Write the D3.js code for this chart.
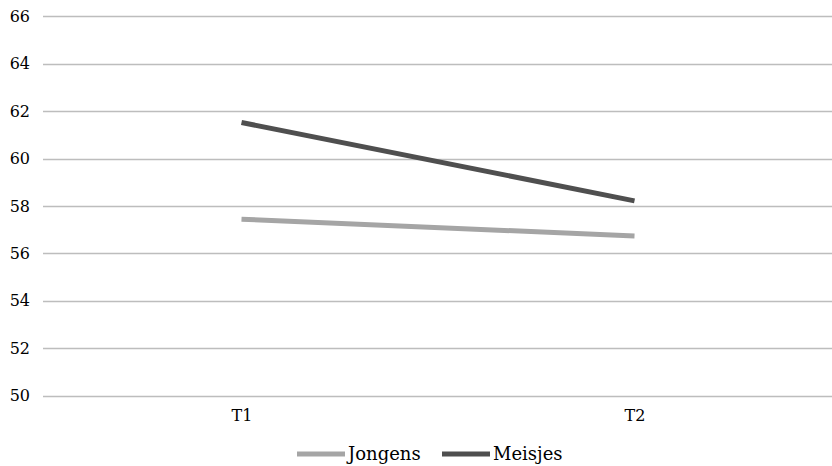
<!DOCTYPE html>
<html>
<head>
<meta charset="utf-8">
<script src="https://cdn.jsdelivr.net/npm/d3@7"></script>
<style>
  html, body { margin: 0; padding: 0; background: #ffffff; }
  svg { display: block; }
  svg text { font-family: "DejaVu Serif", serif; }
</style>
</head>
<body>
<svg id="chart" width="832" height="466"></svg>
<script>
// Measurement moments and mean scores per group
const categories = ["T1", "T2"];
const jongens = [57.44, 56.73];
const meisjes = [61.52, 58.21];
const yTicks = [50, 52, 54, 56, 58, 60, 62, 64, 66];

const series = [
  { name: "Jongens", values: jongens, color: "#a5a5a5" },
  { name: "Meisjes", values: meisjes, color: "#4f4f4f" }
];

const svg = d3.select("#chart");
const W = 832;
const plot = { left: 45, right: 831, top: 16.3, bottom: 395.5 };

const x = d3.scalePoint()
  .domain(categories)
  .range([plot.left, plot.right])
  .padding(0.5);

const y = d3.scaleLinear()
  .domain([50, 66])
  .range([plot.bottom, plot.top]);

// Horizontal gridlines
svg.append("g")
  .selectAll("line")
  .data(yTicks)
  .join("line")
  .attr("x1", 43)
  .attr("x2", W)
  .attr("y1", d => Math.round(y(d)) + 0.5)
  .attr("y2", d => Math.round(y(d)) + 0.5)
  .attr("stroke", "#bdbdbd")
  .attr("stroke-width", 1.3);

// Y axis labels
const yAxis = d3.axisLeft(y).tickValues(yTicks).tickSize(0).tickPadding(0);
const gy = svg.append("g")
  .attr("transform", "translate(30,0)")
  .call(yAxis)
  .attr("font-family", null);
gy.select(".domain").remove();
gy.selectAll("text")
  .attr("font-size", 16)
  .attr("fill", "#000")
  .attr("dy", "0.32em");

// X axis labels
const xAxis = d3.axisBottom(x).tickSize(0).tickPadding(0);
const gx = svg.append("g")
  .attr("transform", "translate(0,410)")
  .call(xAxis)
  .attr("font-family", null);
gx.select(".domain").remove();
gx.selectAll("text")
  .attr("font-size", 16)
  .attr("fill", "#000")
  .attr("dy", "0.71em");

// Series lines
const line = d3.line()
  .x((d, i) => x(categories[i]))
  .y(d => y(d));

svg.append("g")
  .selectAll("path")
  .data(series)
  .join("path")
  .attr("d", d => line(d.values))
  .attr("fill", "none")
  .attr("stroke", d => d.color)
  .attr("stroke-width", 5)
  .attr("stroke-linecap", "butt");

// Legend
const legend = svg.append("g").attr("transform", "translate(297,454)");
const legendX = [0, 145];
const items = legend.selectAll("g")
  .data(series)
  .join("g")
  .attr("transform", (d, i) => `translate(${legendX[i]},0)`);
items.append("line")
  .attr("x1", 0).attr("x2", 48)
  .attr("y1", 0).attr("y2", 0)
  .attr("stroke", d => d.color)
  .attr("stroke-width", 5);
items.append("text")
  .attr("x", 51)
  .attr("y", 0)
  .attr("dy", "0.35em")
  .attr("font-size", 18)
  .attr("fill", "#000")
  .text(d => d.name);
</script>
</body>
</html>
